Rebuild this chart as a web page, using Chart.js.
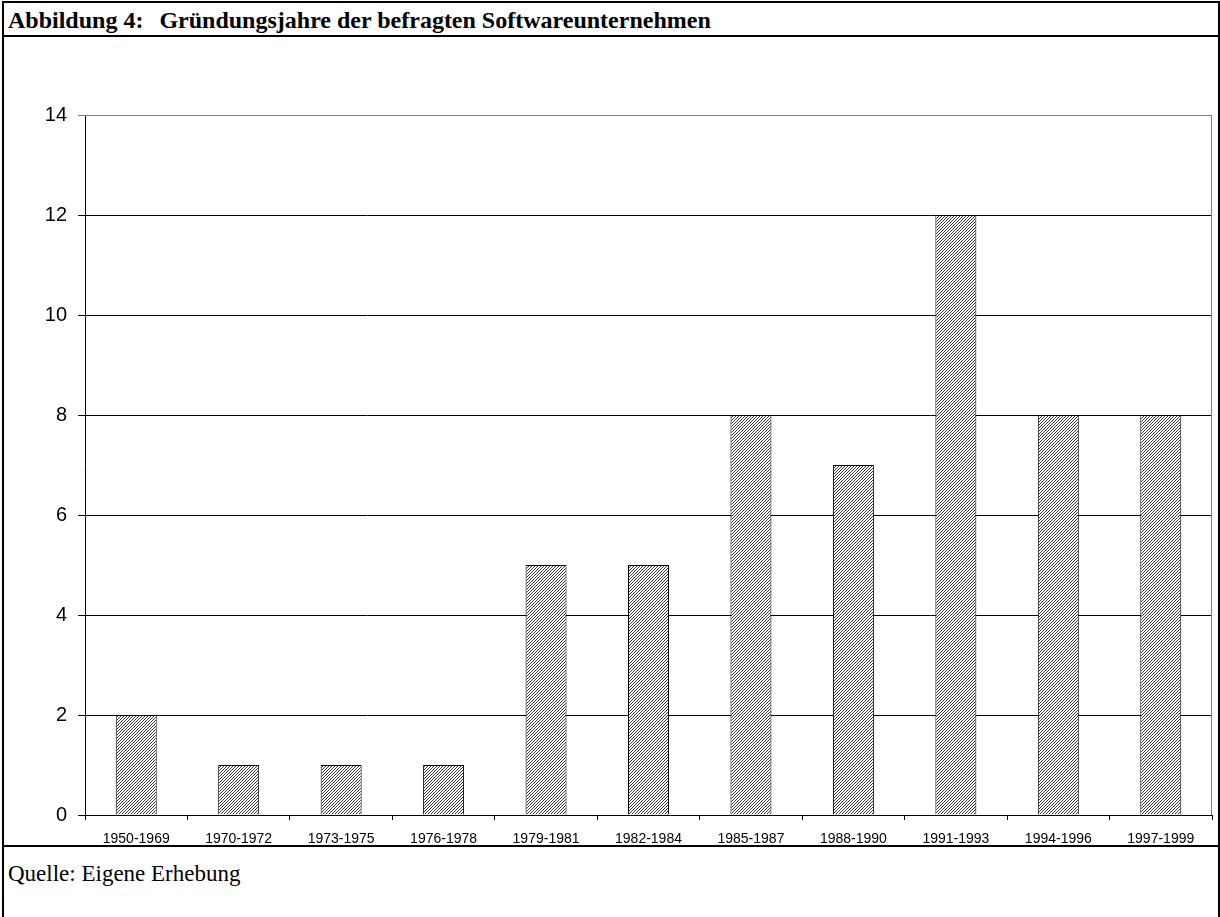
<!DOCTYPE html>
<html lang="de">
<head>
<meta charset="UTF-8">
<title>Abbildung 4</title>
<script src="https://cdn.jsdelivr.net/npm/chart.js"></script>
<style>
  body { margin: 0; background: #fff; }
  .frame { position: absolute; left: 2px; top: 1px; width: 1214px; height: 930px;
           border: 2px solid #000; }
  .titel { position: absolute; left: 0; top: 0; width: 1214px; height: 34px;
           border-bottom: 2px solid #000; font: bold 24px "Liberation Serif", serif;
           line-height: 34px; padding-left: 4px; box-sizing: border-box; }
  .titel .gap { display: inline-block; width: 16px; }
  .quelle { position: absolute; left: 0; top: 842px; width: 1214px; height: 60px;
            border-top: 2px solid #000; font: 23px "Liberation Serif", serif;
            padding: 14px 0 0 4px; box-sizing: border-box; }
  .graph { position: absolute; left: 0; top: 0; width: 1220px; height: 845px; }
</style>
</head>
<body>
<div class="frame">
  <div class="titel">Abbildung 4:<span class="gap"></span>Gründungsjahre der befragten Softwareunternehmen</div>
  <div class="quelle">Quelle: Eigene Erhebung</div>
</div>
<div class="graph"><canvas id="myChart" width="1220" height="845"></canvas></div>
<script>
  // Gründungsjahre (Zeiträume) und Anzahl Unternehmen
  var zeitraeume = ["1950-1969", "1970-1972", "1973-1975", "1976-1978", "1979-1981",
                    "1982-1984", "1985-1987", "1988-1990", "1991-1993", "1994-1996", "1997-1999"];
  var anzahl = [2, 1, 1, 1, 5, 5, 8, 7, 12, 8, 8];
  var yMax = 14;
  var yStep = 2;

  // schraffur fuer die balken (feine diagonale linien)
  function schraffur() {
    var c = document.createElement("canvas");
    c.width = 3; c.height = 3;
    var ctx = c.getContext("2d");
    ctx.fillStyle = "#fff";
    ctx.fillRect(0, 0, 3, 3);
    ctx.fillStyle = "#3a3a3a";
    ctx.fillRect(0, 2, 1, 1);
    ctx.fillRect(1, 1, 1, 1);
    ctx.fillRect(2, 0, 1, 1);
    return ctx.createPattern(c, "repeat");
  }

  // grauer rahmen oben und rechts
  var rahmen = {
    id: "rahmen",
    afterDraw: function (chart) {
      var a = chart.chartArea, ctx = chart.ctx;
      ctx.save();
      ctx.strokeStyle = "#808080";
      ctx.lineWidth = 1;
      ctx.beginPath();
      ctx.moveTo(a.left, a.top + 0.5);
      ctx.lineTo(a.right - 0.5, a.top + 0.5);
      ctx.lineTo(a.right - 0.5, a.bottom);
      ctx.stroke();
      ctx.restore();
    }
  };

  Chart.defaults.font.family = "'Liberation Sans', Arial, sans-serif";
  Chart.defaults.color = "#000";

  new Chart(document.getElementById("myChart"), {
    type: "bar",
    data: {
      labels: zeitraeume,
      datasets: [{
        label: "Anzahl",
        data: anzahl,
        backgroundColor: schraffur(),
        borderColor: "#000",
        borderWidth: 1,
        categoryPercentage: 1,
        barPercentage: 0.4
      }]
    },
    options: {
      responsive: false,
      animation: false,
      events: [],
      layout: { padding: { top: 115, left: 30, right: 8, bottom: 0 } },
      plugins: { legend: { display: false }, tooltip: { enabled: false } },
      scales: {
        x: {
          grid: { drawOnChartArea: false, offset: true, color: "#000", tickLength: 5 },
          border: { color: "#000" },
          ticks: { font: { size: 14 }, maxRotation: 0, padding: 11 },
          afterFit: function (s) { s.height = 30; }
        },
        y: {
          min: 0, max: yMax,
          ticks: { stepSize: yStep, font: { size: 20 }, padding: 11 },
          grid: {
            color: function (c) { return c.tick && c.tick.value === yMax ? "#808080" : "#000"; },
            tickLength: 7
          },
          border: { color: "#000" },
          afterFit: function (s) { s.width = 55; }
        }
      }
    },
    plugins: [rahmen]
  });
</script>
</body>
</html>
